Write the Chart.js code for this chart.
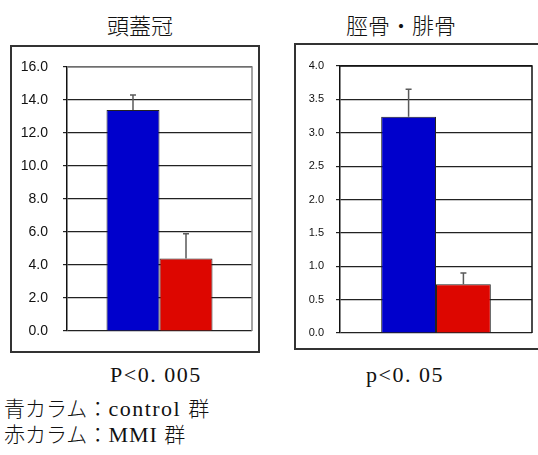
<!DOCTYPE html>
<html>
<head>
<meta charset="utf-8">
<script src="https://cdn.jsdelivr.net/npm/chart.js@4.4.1/dist/chart.umd.min.js"></script>
<style>
    body { margin:0; background:#fff; width:538px; height:455px; overflow:hidden; position:relative; }
    .caja { position:absolute; border:2px solid #333; box-sizing:border-box; background:#fff; }
    .caja canvas { position:absolute; left:0; top:0; }
    .titulo { position:absolute; font-family:"Noto Sans CJK JP"; font-weight:300; font-size:22px; line-height:30px; color:#111; text-align:center; white-space:nowrap; }
    .texto { position:absolute; font-family:"Liberation Serif","Noto Sans CJK JP"; font-size:22px; line-height:26px; color:#111; white-space:nowrap; }
</style>
</head>
<body>

<div class="titulo" style="left:60px; top:9px; width:160px;">頭蓋冠</div>
<div class="titulo" style="left:321px; top:9px; width:160px;">脛骨・腓骨</div>

<div class="caja" id="caja1" style="left:10px; top:45px; width:250px; height:308px;">
    <canvas id="grafico1" width="246" height="304"></canvas>
</div>
<div class="caja" id="caja2" style="left:294px; top:43px; width:248px; height:307px;">
    <canvas id="grafico2" width="244" height="303"></canvas>
</div>

<div class="texto" style="left:110px; top:362px; letter-spacing:1.5px;">P&lt;0. 005</div>
<div class="texto" style="left:366px; top:362px; letter-spacing:1.5px;">p&lt;0. 05</div>
<div class="texto" style="left:4px; top:394px; font-family:'Noto Sans CJK JP'; font-weight:300; font-size:21px;">青カラム：<span style="font-family:'Liberation Serif'; font-weight:400; font-size:22px; letter-spacing:1.5px;">control </span>群</div>
<div class="texto" style="left:4px; top:420px; font-family:'Noto Sans CJK JP'; font-weight:300; font-size:21px;">赤カラム：<span style="font-family:'Liberation Serif'; font-weight:400; font-size:22px; letter-spacing:1px;">MMI </span>群</div>

<script>
// grupos
const grupos = ['control', 'MMI'];
const coloresBarra = ['rgb(0, 0, 204)', 'rgb(221, 6, 0)'];

// 頭蓋冠
const craneoValores = [13.4, 4.4];
const craneoError = [0.9, 1.5];
const craneoTicks = [0, 2, 4, 6, 8, 10, 12, 14, 16];

// 脛骨・腓骨
const tibiaValores = [3.24, 0.73];
const tibiaError = [0.41, 0.17];
const tibiaTicks = [0, 0.5, 1.0, 1.5, 2.0, 2.5, 3.0, 3.5, 4.0];

// barras de error (solo hacia arriba)
const barrasError = {
    id: 'barrasError',
    afterDatasetsDraw(chart, args, opts) {
        const ctx = chart.ctx;
        const y = chart.scales.y;
        ctx.save();
        ctx.strokeStyle = '#5a5a5a';
        ctx.lineWidth = 1.5;
        chart.data.datasets.forEach(function(ds, i){
            const bar = chart.getDatasetMeta(i).data[0];
            const valor = ds.data[0];
            const yTop = y.getPixelForValue(valor + opts.errores[i]);
            const yBar = y.getPixelForValue(valor);
            ctx.beginPath();
            ctx.moveTo(bar.x, yBar);
            ctx.lineTo(bar.x, yTop);
            ctx.moveTo(bar.x - 3, yTop);
            ctx.lineTo(bar.x + 3, yTop);
            ctx.stroke();
        });
        ctx.restore();
    }
};

// marco del area del grafico
const marco = {
    id: 'marco',
    afterDraw(chart, args, opts) {
        const a = chart.chartArea;
        const ctx = chart.ctx;
        ctx.save();
        ctx.strokeStyle = opts.color;
        ctx.lineWidth = 1.5;
        ctx.beginPath();
        ctx.moveTo(a.left, a.top);
        ctx.lineTo(a.right, a.top);
        ctx.lineTo(a.right, a.bottom);
        ctx.stroke();
        ctx.restore();
    }
};

function graficoBarras(id, valores, errores, ticks, cfg){
    const ctx = document.getElementById(id);
    const datasets = grupos.map(function(g, i){
        return {
            label: g,
            data: [valores[i]],
            backgroundColor: coloresBarra[i],
            borderColor: '#222',
            borderWidth: 1,
            categoryPercentage: cfg.ancho,
            barPercentage: 1.0
        };
    });

    new Chart(ctx, {
        type: 'bar',
        plugins: [barrasError, marco],
        data: {
            labels: [''],
            datasets: datasets
        },
        options: {
            responsive: false,
            animation: false,
            layout: {
                padding: cfg.padding
            },
            scales: {
                x: { display: false },
                y: {
                    min: ticks[0],
                    max: ticks[ticks.length - 1],
                    afterBuildTicks: function(scale){
                        scale.ticks = ticks.map(function(v){ return { value: v }; });
                    },
                    afterFit: function(scale){
                        scale.width = cfg.ejeAncho;
                        scale.paddingTop = 0;
                        scale.paddingBottom = 0;
                    },
                    border: { color: '#111', width: 1.5 },
                    grid: {
                        color: '#222',
                        lineWidth: 1.2,
                        tickLength: 4,
                        tickColor: '#222'
                    },
                    ticks: {
                        color: '#111',
                        padding: cfg.tickPad,
                        font: { family: 'Liberation Sans', size: cfg.tickSize },
                        callback: function(v){ return Number(v).toFixed(1); }
                    }
                }
            },
            plugins: {
                legend: { display: false },
                tooltip: { enabled: false },
                barrasError: { errores: errores },
                marco: { color: cfg.marco }
            }
        }
    });
}

graficoBarras('grafico1', craneoValores, craneoError, craneoTicks, {
    ancho: 0.573,
    padding: { top: 20, right: 6, bottom: 20, left: 0 },
    ejeAncho: 55,
    tickPad: 15,
    tickSize: 14,
    marco: '#888'
});

graficoBarras('grafico2', tibiaValores, tibiaError, tibiaTicks, {
    ancho: 0.571,
    padding: { top: 21, right: 8, bottom: 15, left: 0 },
    ejeAncho: 44,
    tickPad: 12,
    tickSize: 11,
    marco: '#111'
});
</script>
</body>
</html>
